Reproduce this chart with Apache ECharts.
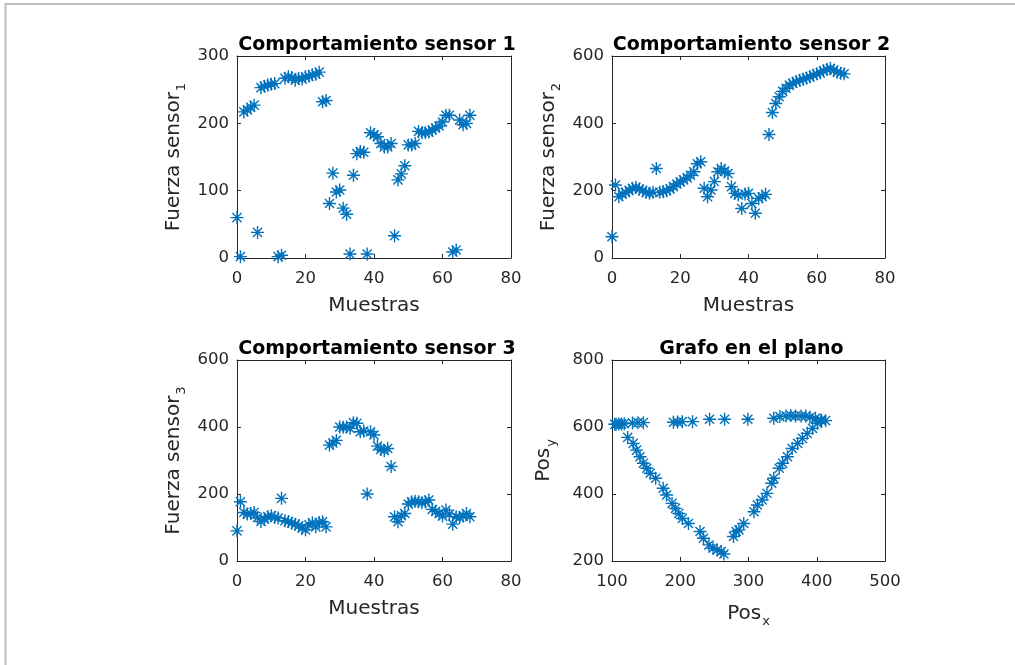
<!DOCTYPE html>
<html>
<head>
<meta charset="utf-8">
<script src="https://cdn.jsdelivr.net/npm/echarts@6/dist/echarts.min.js"></script>
<style>html,body{margin:0;padding:0;background:#fff}#c{width:1015px;height:665px}</style>
</head>
<body>
<div id="c"></div>
<script>
// ---------------- data ----------------
const sampleIdx = Array.from({length: 69}, (_, i) => i);
const sensor1 = [60,2,217,220,224,227,38,253,255,257,
  258,259,2,4,267,269,268,264,267,266,
  269,270,272,273,276,232,234,81,126,98,
  101,74,65,6,123,155,158,157,6,186,
  183,180,170,165,165,170,33,116,125,137,
  168,168,170,188,186,186,187,190,193,196,
  202,212,212,9,12,205,198,200,212];
const sensor2 = [63,217,182,190,195,200,207,210,205,200,
  195,192,195,266,195,197,200,205,212,220,
  226,232,238,246,256,280,286,207,182,202,
  227,256,266,258,251,212,192,187,147,190,
  192,162,133,177,182,189,367,432,459,479,
  495,504,514,519,524,528,531,535,538,543,
  547,550,556,560,563,558,552,549,547];
const sensor3 = [90,177,145,140,142,145,130,118,125,133,
  135,130,128,187,120,118,113,110,105,98,
  93,108,114,102,115,117,102,346,352,360,
  400,399,400,396,413,411,386,388,200,386,
  376,343,333,330,336,282,132,117,135,142,
  170,177,178,177,174,176,182,154,148,142,
  134,152,140,110,132,130,134,142,132];
const posX = [123,131,136,141,146,151,156,164,175,180,188,193,198,203,212,229,234,242,248,254,260,264,
  278,282,286,293,308,313,320,327,334,337,345,350,357,364,372,379,386,394,401,407,413,
  406,398,390,384,377,369,362,355,346,337,299,265,243,218,203,196,190,146,138,130,118,114,110,106,104];
const posY = [569,551,531,511,492,477,462,447,417,397,372,357,342,327,312,288,268,248,238,233,228,221,
  273,288,293,312,347,367,382,402,432,447,477,492,511,536,551,566,581,596,611,619,619,
  621,626,629,633,633,633,634,633,631,626,623,623,623,616,616,615,614,613,613,612,610,609,609,608,608];

const titles = ['Comportamiento sensor 1','Comportamiento sensor 2','Comportamiento sensor 3','Grafo en el plano'];
const xNames = ['Muestras','Muestras','Muestras','{a|Pos}{b|x}'];
const yNames = ['{a|Fuerza sensor}{b|1}','{a|Fuerza sensor}{b|2}','{a|Fuerza sensor}{b|3}','{a|Pos}{b|y}'];
const xRanges = [[0,80,20],[0,80,20],[0,80,20],[100,500,100]];
const yRanges = [[0,300,100],[0,600,200],[0,600,200],[200,800,200]];

// ---------------- style ----------------
const FONT = 'DejaVu Sans';
const INK = '#262626';
const BLUE = '#0072BD';
const grids = [
  {left:237, top:56, width:274, height:202},
  {left:612, top:56, width:273, height:202},
  {left:237, top:360, width:274, height:201},
  {left:612, top:360, width:273, height:201}
];
const rich = {
  a: {fontFamily: FONT, fontSize: 20, color: INK},
  b: {fontFamily: FONT, fontSize: 13, color: INK, verticalAlign: 'bottom', padding: [16,0,0,1]}
};

const xAxes = [], yAxes = [];
for (let i = 0; i < 4; i++) {
  const [xmin,xmax,xint] = xRanges[i];
  const [ymin,ymax,yint] = yRanges[i];
  const common = {
    gridIndex: i, splitLine:{show:false},
    axisLine:{show:true, onZero:false, lineStyle:{color:INK, width:1}},
    axisTick:{show:true, inside:true, length:4, lineStyle:{color:INK}}
  };
  xAxes.push(Object.assign({}, common, {
    type:'value', position:'bottom', min:xmin, max:xmax, interval:xint,
    name:xNames[i], nameLocation:'middle', nameGap: 38,
    nameTextStyle:{fontFamily:FONT, fontSize:20, color:INK, rich},
    axisLabel:{fontFamily:FONT, fontSize:16.5, color:INK, margin:12}
  }));
  yAxes.push(Object.assign({}, common, {
    type:'value', position:'left', min:ymin, max:ymax, interval:yint,
    name:yNames[i], nameLocation:'middle', nameGap: i===3 ? 54 : 49,
    nameTextStyle:{fontFamily:FONT, fontSize:20, color:INK, rich},
    axisLabel:{fontFamily:FONT, fontSize:16.5, color:INK, margin:8}
  }));
}
for (let i = 0; i < 4; i++) {
  const [xmin,xmax,xint] = xRanges[i];
  const [ymin,ymax,yint] = yRanges[i];
  const mirror = {
    gridIndex:i, splitLine:{show:false}, axisLabel:{show:false},
    axisLine:{show:true, onZero:false, lineStyle:{color:INK, width:1}},
    axisTick:{show:true, inside:true, length:4, lineStyle:{color:INK}}
  };
  xAxes.push(Object.assign({}, mirror, {type:'value', position:'top', min:xmin, max:xmax, interval:xint}));
  yAxes.push(Object.assign({}, mirror, {type:'value', position:'right', min:ymin, max:ymax, interval:yint}));
}

const STAR = 'path://M0,-10L0,10M-10,0L10,0M-7,-7L7,7M-7,7L7,-7';
function scatter(i, data) {
  return {
    type:'scatter', xAxisIndex:i, yAxisIndex:i, data,
    symbol: STAR, symbolSize: 13,
    itemStyle:{color:'transparent', borderColor:BLUE, borderWidth:1.4, opacity:1},
    emphasis:{disabled:true}, silent:true
  };
}
const sensors = [sensor1, sensor2, sensor3];
const series = sensors.map((s, i) => scatter(i, sampleIdx.map(k => [k, s[k]])));
series.push(scatter(3, posX.map((x, k) => [x, posY[k]])));

const titleCfg = titles.map((t, i) => ({
  text: t, left: grids[i].left + grids[i].width/2 - 2, top: grids[i].top - 25,
  textAlign: 'center',
  textStyle: {fontFamily: FONT, fontWeight: 'bold', fontSize: 19, color: '#000'}
}));

const chart = echarts.init(document.getElementById('c'), null, {renderer:'canvas'});
chart.setOption({
  animation: false,
  backgroundColor: '#fff',
  title: titleCfg,
  grid: grids,
  xAxis: xAxes,
  yAxis: yAxes,
  series,
  graphic: [{
    type:'rect', shape:{x:5.5, y:4, width:1200, height:1200},
    style:{fill:'none', stroke:'#bdbdbd', lineWidth:2}, silent:true
  }]
});
</script>
</body>
</html>
